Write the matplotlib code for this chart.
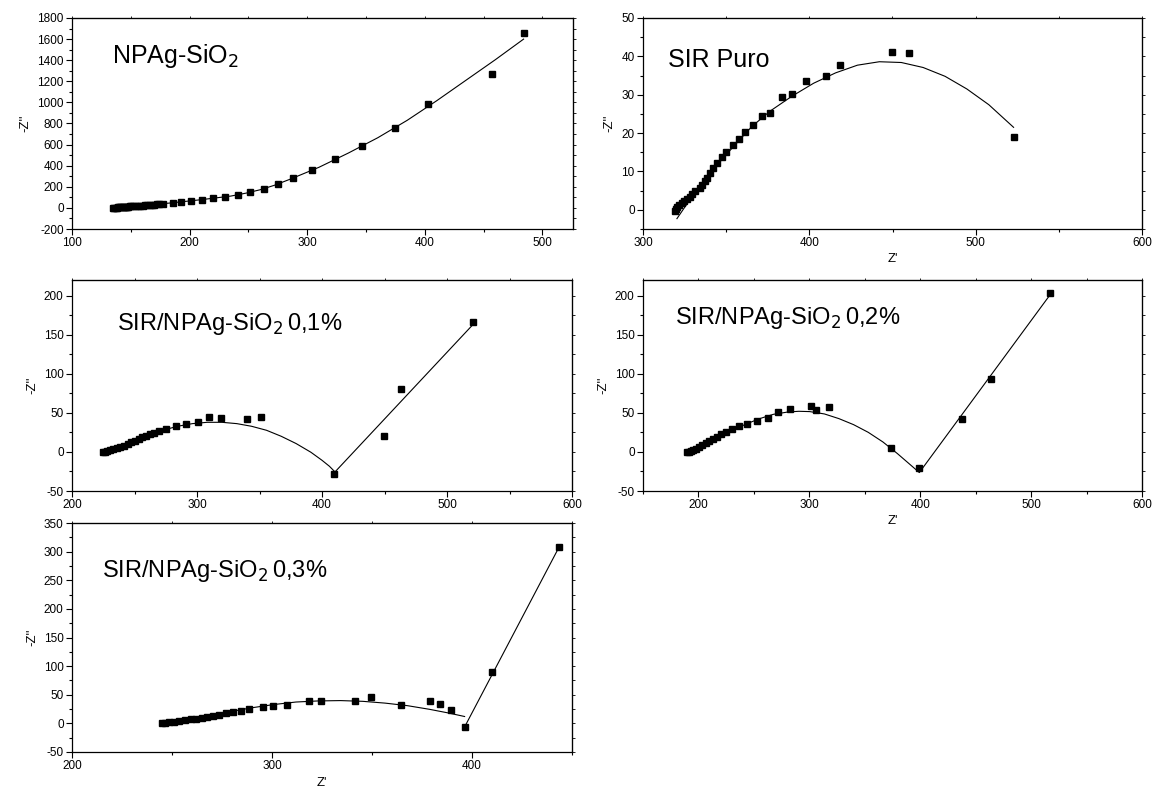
import numpy as np
import matplotlib
matplotlib.use('Agg')
import matplotlib.pyplot as plt
from matplotlib.ticker import MultipleLocator

plt.rcParams['font.family'] = ['Liberation Sans', 'DejaVu Sans']
plt.rcParams['axes.unicode_minus'] = False

# ---- NPAg-SiO2 ----
np_x = [135, 136, 137, 138, 139, 140, 141, 142, 143, 144, 145, 146, 147, 148, 149, 150,
        152, 154, 156, 158, 160, 162, 164, 166, 168, 170, 172, 174,
        177.8, 185.7, 192.8, 201, 210.4, 220.3, 230.5, 241.1, 251.6, 262.9, 275.1,
        288.2, 303.7, 323.3, 346.7, 374.5, 403, 457, 484]
np_y = [0, 1, 2, 3, 4, 5, 6, 7, 8, 9, 10, 11, 12, 13, 14, 15,
        16, 17, 19, 20, 22, 23, 25, 27, 29, 31, 33, 36,
        40, 49, 56, 65, 78, 91, 106, 125, 148, 182, 226,
        286, 356, 460, 590, 754, 982, 1270, 1660]
np_fit_x = [135, 160, 185, 210, 235, 248, 260, 272, 285, 297, 310, 335, 360, 385, 410,
            435, 460, 484]
np_fit_y = [0, 22, 48, 78, 112, 140, 172, 214, 270, 325, 385, 520, 665, 830, 1015,
            1210, 1405, 1600]

# ---- SIR Puro ----
sp_x = [319, 319.6, 320.5, 321.8, 323.3, 324.9, 326.6, 328.1, 329.7, 331.4, 334.4, 335.7,
        337, 338.4, 340.1, 342.3, 344.7, 347.4, 350.2, 354, 357.5, 361.6, 366.2, 371.3,
        376.5, 383.6, 389.3, 397.8, 409.9, 418.2, 449.8, 460, 522.8]
sp_y = [-0.3, 0.2, 0.7, 1.2, 1.7, 2.3, 2.8, 3.3, 4.0, 4.8, 5.6, 6.4,
        7.4, 8.3, 9.6, 10.9, 12.1, 13.7, 15.1, 16.8, 18.5, 20.3, 22.1, 24.5,
        25.2, 29.4, 30.2, 33.5, 35.0, 37.8, 41.1, 41.0, 19.0]
sp_fit_x = [320.4, 328.1, 336.8, 345.6, 354.4, 365.4, 376.3, 389.5, 402.6, 415.8, 428.9,
            442.1, 455.3, 468.4, 481.6, 494.7, 507.9, 522.8]
sp_fit_y = [-2.3, 2.6, 7.4, 12.2, 16.5, 21.7, 25.7, 29.6, 33.0, 35.7, 37.7,
            38.6, 38.4, 37.1, 34.8, 31.5, 27.4, 21.5]

# ---- SIR/NPAg-SiO2 0,1% ----
p1_x = [224.9, 226.4, 228.1, 230.2, 232.6, 235.6, 238.5, 241.5, 244.4, 247.4, 250.4, 253.3,
        256.3, 259.3, 262.2, 265.2, 269.6, 275.3, 283, 291.3, 300.4, 309.3, 319.4, 340.1,
        350.8, 409.5, 449.2, 463.1, 520.9]
p1_y = [0, 0.4, 1.3, 2.1, 3.4, 4.7, 6.4, 8.1, 10.2, 12.4, 14.5, 16.6,
        18.7, 20.9, 23.0, 23.9, 26.4, 29.8, 32.8, 35.8, 37.9, 44.7, 43.5, 42.2,
        44.7, -27.7, 20.9, 80.1, 165.7]
p1_fit_x = [225.2, 237, 248.9, 260.7, 272.6, 284.4, 296.3, 308.1, 320, 331.9, 343.7, 355.6,
            367.4, 379.3, 391.1, 400, 405.9, 410.4, 520.9]
p1_fit_y = [-3.0, 5.5, 13.6, 21.3, 27.7, 32.8, 36.2, 37.9, 37.9, 36.2, 32.8, 27.7,
            20.0, 10.7, -0.4, -10.7, -18.3, -25.6, 163.2]

# ---- SIR/NPAg-SiO2 0,2% ----
p2_x = [190.1, 191.1, 193.1, 195, 197.7, 200.3, 203.3, 206.6, 209.9, 213.2, 216.8, 220.7,
        224.7, 230, 236.2, 243.5, 252.7, 262.6, 271.8, 282.3, 301.1, 305.7, 317.5,
        373.5, 399.2, 437.7, 463.7, 516.7]
p2_y = [0, 0.4, 1.3, 2.6, 4.3, 6.0, 8.5, 11.1, 14.1, 16.6, 19.6, 22.6,
        25.6, 29.4, 32.8, 35.8, 40.1, 43.9, 51.1, 55.0, 58.4, 53.3, 57.5,
        5.1, -20.9, 41.8, 92.9, 203.2]
p2_fit_x = [190.1, 201.6, 214.8, 228, 241.2, 254.3, 267.5, 280.7, 290.5, 300.4, 313.6, 326.7,
            339.9, 353.1, 366.3, 379.4, 390.9, 399.2, 516.7]
p2_fit_y = [-2.1, 7.2, 17.0, 26.4, 34.5, 42.2, 48.1, 51.1, 52.0, 51.6, 48.6, 42.6,
            34.9, 25.1, 12.8, -2.1, -16.2, -26.4, 200.3]

# ---- SIR/NPAg-SiO2 0,3% ----
p3_x = [244.8, 246.7, 248.7, 250.9, 253.7, 256.5, 259.3, 262, 264.8, 267.6, 270.4, 273.5,
        276.9, 280.6, 284.6, 288.5, 295.4, 300.4, 307.4, 318.7, 324.3, 341.7, 349.6,
        364.3, 378.9, 383.9, 389.3, 396.3, 409.8, 443.5]
p3_y = [0, 0.6, 1.9, 3.2, 4.4, 5.7, 7.0, 8.2, 10.1, 11.4, 13.3, 15.2,
        17.7, 20.2, 22.1, 24.6, 27.8, 30.3, 32.2, 38.5, 39.2, 38.5, 46.8,
        32.9, 39.2, 33.5, 23.4, -6.3, 89.1, 307.7]
p3_arc_x = [244.4, 256.5, 267.6, 278.7, 289.8, 300.9, 312, 323.1, 334.3, 345.4, 356.5,
            367.6, 378.7, 388, 396.3]
p3_arc_y = [-1.9, 4.4, 12.0, 20.2, 27.2, 32.9, 37.3, 39.2, 39.8, 38.5, 35.4,
            31.0, 24.6, 18.3, 12.0]
p3_line_x = [396.3, 443.5]
p3_line_y = [-6.3, 307.7]

W, H = 1153, 796
fig = plt.figure(figsize=(W / 100, H / 100), dpi=100)


def make_ax(l, t, r, b):
    return fig.add_axes([l / W, 1 - b / H, (r - l) / W, (b - t) / H])


def style(ax, xlim, xmaj, ylim, ymaj, xlabel=None, ylabel="-Z''"):
    ax.set_xlim(*xlim)
    ax.set_ylim(*ylim)
    ax.xaxis.set_major_locator(MultipleLocator(xmaj))
    ax.xaxis.set_minor_locator(MultipleLocator(xmaj / 2))
    ax.yaxis.set_major_locator(MultipleLocator(ymaj))
    ax.yaxis.set_minor_locator(MultipleLocator(ymaj / 2))
    ax.tick_params(which='major', direction='out', length=4, width=0.8, labelsize=8.5, pad=2)
    ax.tick_params(which='minor', direction='out', length=2.5, width=0.8)
    for s in ax.spines.values():
        s.set_linewidth(0.9)
    # short ticks on the top and right frame
    top = ax.secondary_xaxis('top')
    top.xaxis.set_major_locator(MultipleLocator(xmaj))
    top.xaxis.set_minor_locator(MultipleLocator(xmaj / 2))
    top.tick_params(which='both', direction='out', length=1.8, width=0.6, labeltop=False)
    right = ax.secondary_yaxis('right')
    right.yaxis.set_major_locator(MultipleLocator(ymaj))
    right.yaxis.set_minor_locator(MultipleLocator(ymaj / 2))
    right.tick_params(which='both', direction='out', length=1.8, width=0.6, labelright=False)
    if xlabel:
        ax.set_xlabel(xlabel, fontsize=9.5, labelpad=3)
    ax.set_ylabel(ylabel, fontsize=9.5, labelpad=4)


def draw(ax, x, y, fits):
    for fx, fy in fits:
        ax.plot(fx, fy, color='k', lw=0.8, zorder=2)
    ax.plot(x, y, 's', color='k', ms=4.3, zorder=3, clip_on=False)


title_kw = dict(fontsize=18, va='center', ha='left')
pct_kw = dict(fontsize=17, va='center', ha='left')

ax1 = make_ax(72, 18, 573, 229)
draw(ax1, np_x, np_y, [(np_fit_x, np_fit_y)])
style(ax1, (100, 526), 100, (-200, 1800), 200)
ax1.text(0.08, 0.82, 'NPAg-SiO$_2$', transform=ax1.transAxes, **title_kw)

ax2 = make_ax(643, 18, 1142, 229)
draw(ax2, sp_x, sp_y, [(sp_fit_x, sp_fit_y)])
style(ax2, (300, 600), 100, (-5, 50), 10, xlabel="Z'")
ax2.text(0.05, 0.80, 'SIR Puro', transform=ax2.transAxes, **title_kw)

ax3 = make_ax(72, 280, 572, 491)
draw(ax3, p1_x, p1_y, [(p1_fit_x, p1_fit_y)])
style(ax3, (200, 600), 100, (-50, 220), 50)
ax3.text(0.09, 0.79, 'SIR/NPAg-SiO$_2\\,$0,1%', transform=ax3.transAxes, **pct_kw)

ax4 = make_ax(643, 280, 1142, 491)
draw(ax4, p2_x, p2_y, [(p2_fit_x, p2_fit_y)])
style(ax4, (150, 600), 100, (-50, 220), 50, xlabel="Z'")
ax4.text(0.065, 0.82, 'SIR/NPAg-SiO$_2\\,$0,2%', transform=ax4.transAxes, **pct_kw)

ax5 = make_ax(72, 523, 572, 752)
draw(ax5, p3_x, p3_y, [(p3_arc_x, p3_arc_y), (p3_line_x, p3_line_y)])
style(ax5, (200, 450), 100, (-50, 350), 50, xlabel="Z'")
ax5.text(0.06, 0.79, 'SIR/NPAg-SiO$_2\\,$0,3%', transform=ax5.transAxes, **pct_kw)

fig.savefig('out.png', dpi=100)
